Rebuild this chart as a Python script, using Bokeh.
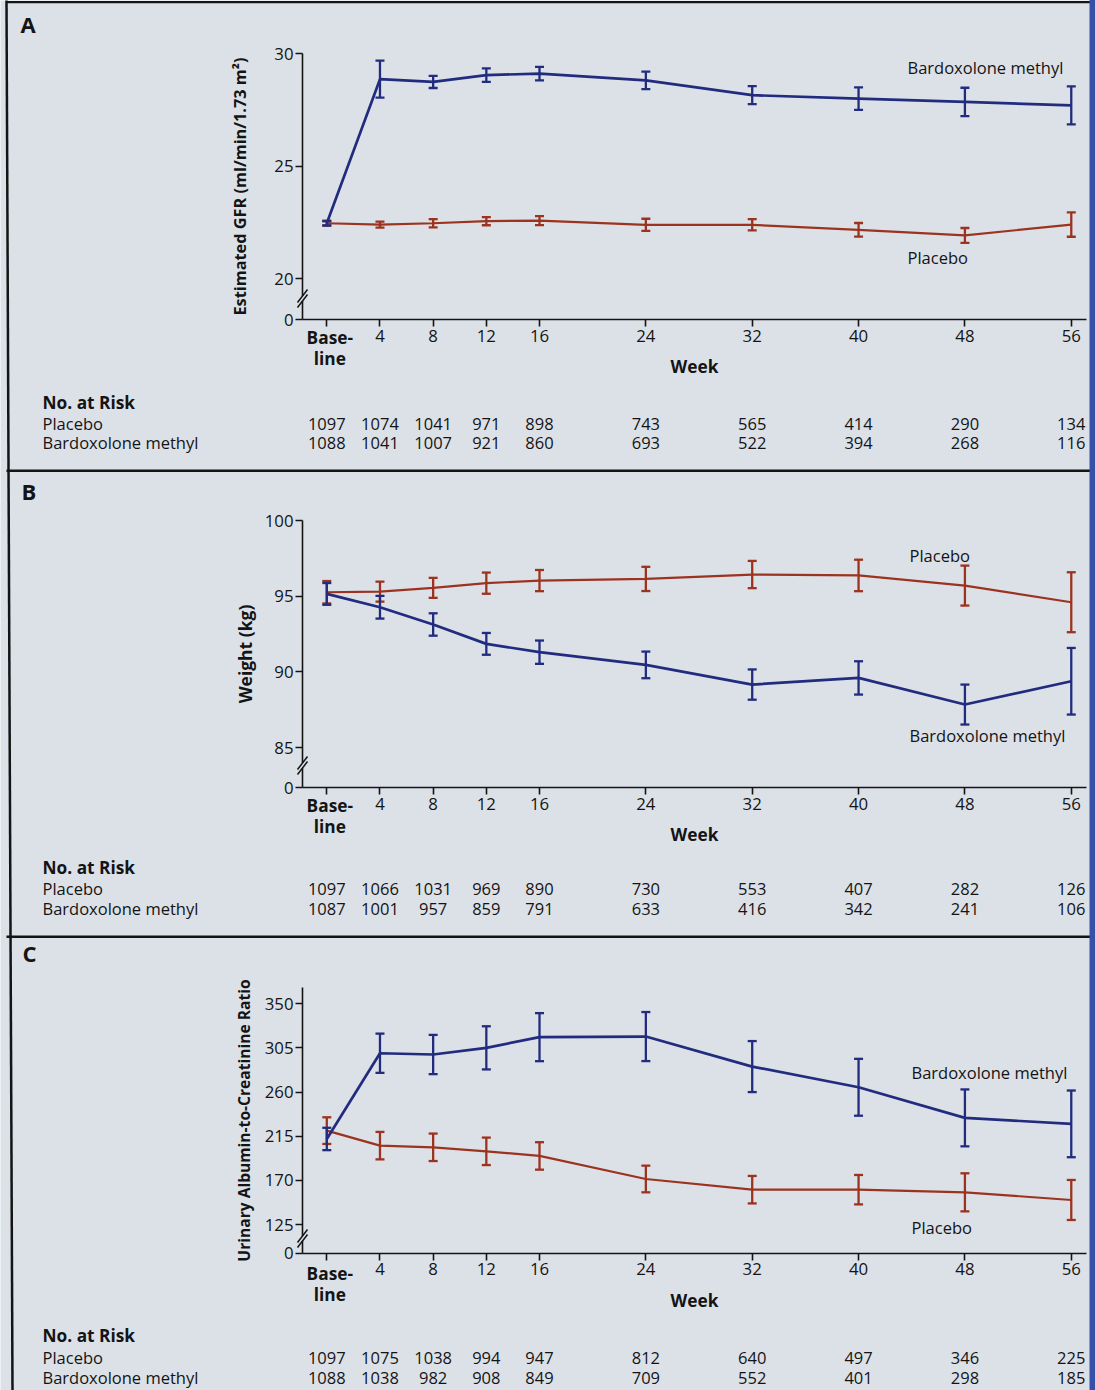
from bokeh.plotting import figure
from bokeh.models import Range1d, FixedTicker, LinearAxis
from bokeh.core.properties import value
from bokeh.embed import file_html
from bokeh.resources import INLINE

# ---- data -----------------------------------------------------------------
weeks = [0, 4, 8, 12, 16, 24, 32, 40, 48, 56]

# A: estimated GFR (ml/min/1.73 m2), mean and error-bar half width
gfr_placebo = [22.47, 22.41, 22.47, 22.56, 22.59, 22.40, 22.40, 22.18, 21.93, 22.41]
gfr_placebo_err = [0.10, 0.13, 0.18, 0.18, 0.20, 0.27, 0.25, 0.30, 0.33, 0.54]
gfr_bard = [22.47, 28.86, 28.74, 29.04, 29.11, 28.81, 28.15, 28.00, 27.85, 27.70]
gfr_bard_err = [0.10, 0.82, 0.27, 0.30, 0.30, 0.39, 0.40, 0.50, 0.63, 0.84]
gfr_risk_placebo = [1097, 1074, 1041, 971, 898, 743, 565, 414, 290, 134]
gfr_risk_bard = [1088, 1041, 1007, 921, 860, 693, 522, 394, 268, 116]

# B: body weight (kg)
wt_placebo = [95.26, 95.30, 95.55, 95.86, 96.03, 96.14, 96.43, 96.37, 95.70, 94.60]
wt_placebo_err = [0.74, 0.66, 0.66, 0.70, 0.70, 0.80, 0.90, 1.04, 1.32, 1.98]
wt_bard = [95.15, 94.27, 93.13, 91.85, 91.30, 90.46, 89.16, 89.60, 87.84, 89.38]
wt_bard_err = [0.72, 0.75, 0.74, 0.72, 0.77, 0.88, 1.00, 1.10, 1.32, 2.20]
wt_risk_placebo = [1097, 1066, 1031, 969, 890, 730, 553, 407, 282, 126]
wt_risk_bard = [1087, 1001, 957, 859, 791, 633, 416, 342, 241, 106]

# C: urinary albumin-to-creatinine ratio
uacr_placebo = [220.7, 205.4, 203.7, 199.6, 194.9, 171.4, 160.5, 160.5, 157.8, 150.0]
uacr_placebo_err = [13.6, 14.0, 14.0, 14.0, 14.0, 13.6, 14.0, 15.0, 19.4, 20.4]
uacr_bard = [212.2, 299.6, 298.3, 305.1, 316.0, 316.6, 286.0, 264.9, 233.7, 227.6]
uacr_bard_err = [11.4, 20.0, 20.0, 22.0, 24.5, 25.0, 26.0, 29.0, 29.0, 34.0]
uacr_risk_placebo = [1097, 1075, 1038, 994, 947, 812, 640, 497, 346, 225]
uacr_risk_bard = [1088, 1038, 982, 908, 849, 709, 552, 401, 298, 185]

gfr_ticks = [20, 25, 30]
wt_ticks = [85, 90, 95, 100]
uacr_ticks = [125, 170, 215, 260, 305, 350]

# ---- page geometry and styling ---------------------------------------------
FONT = "Open Sans"
PAPER = "#dce1e8"
INK = "#141414"
BLUE = "#222c7e"
RED = "#9c331f"
EDGE = "#3550a8"
NORMAL = value("16.5px")
BOLD = value("17.3px")

W, H = 1095, 1390
PX0, PXW = 326.3, 13.294       # screen x of week 0, pixels per week
AXIS_X, AXIS_END = 302, 1086   # screen x where the axes start and end


def xd(px):
    return (px - PX0) / PXW


panels = [
    dict(letter="A", rng="default", cal=(30.0, 53.0, 18.2, 319.0), floor=18.2, top=30.0,
         ticks=gfr_ticks, ylabel="Estimated GFR (ml/min/1.73 m\u00b2)",
         ylabel_size="16.3px", ylabel_standoff=20,
         placebo=gfr_placebo, placebo_err=gfr_placebo_err,
         bard=gfr_bard, bard_err=gfr_bard_err,
         risk_placebo=gfr_risk_placebo, risk_bard=gfr_risk_bard,
         letter_xy=(20, 23), base_y=337, rows=(402, 423, 442),
         bard_label=(907, 67), placebo_label=(907, 257), break_y=298),
    dict(letter="B", rng="B", cal=(100.0, 520.0, 82.36, 787.0), floor=82.36, top=100.0,
         ticks=wt_ticks, ylabel="Weight (kg)",
         ylabel_size="17.5px", ylabel_standoff=5,
         placebo=wt_placebo, placebo_err=wt_placebo_err,
         bard=wt_bard, bard_err=wt_bard_err,
         risk_placebo=wt_risk_placebo, risk_bard=wt_risk_bard,
         letter_xy=(21, 490), base_y=805, rows=(867, 888, 908),
         bard_label=(909, 735), placebo_label=(909, 555), break_y=765),
    dict(letter="C", rng="C", cal=(350.0, 1003.3, 125.0, 1224.0), floor=95.44, top=366.6,
         ticks=uacr_ticks, ylabel="Urinary Albumin-to-Creatinine Ratio",
         ylabel_size="15.6px", ylabel_standoff=7,
         placebo=uacr_placebo, placebo_err=uacr_placebo_err,
         bard=uacr_bard, bard_err=uacr_bard_err,
         risk_placebo=uacr_risk_placebo, risk_bard=uacr_risk_bard,
         letter_xy=(22, 952), base_y=1273, rows=(1335, 1357, 1377),
         bard_label=(911, 1072), placebo_label=(911, 1227), break_y=1238),
]


def make_yd(cal):
    v_a, py_a, v_b, py_b = cal
    k = (v_b - v_a) / (py_b - py_a)
    return lambda py: v_a + (py - py_a) * k


ranges = {}
for pn in panels:
    yd = make_yd(pn["cal"])
    ranges[pn["rng"]] = Range1d(yd(H), yd(0))

p = figure(width=W, height=H, x_range=Range1d(xd(0), xd(W)), y_range=ranges["default"],
           output_backend="svg", toolbar_location=None, title=None,
           x_axis_location=None, y_axis_location=None,
           min_border=0, background_fill_color=PAPER, border_fill_color=PAPER,
           outline_line_color=None)
p.extra_y_ranges = {"B": ranges["B"], "C": ranges["C"]}
p.grid.visible = False


def style_axis(ax):
    ax.axis_line_color = INK
    ax.axis_line_width = 1.6
    ax.major_tick_line_color = INK
    ax.major_tick_line_width = 1.6
    ax.major_tick_out = 7
    ax.major_tick_in = 0
    ax.minor_tick_line_color = None
    ax.major_label_text_font = FONT
    ax.major_label_text_font_size = "16.8px"
    ax.major_label_text_color = INK
    ax.axis_label_text_font = FONT
    ax.axis_label_text_font_style = "bold"
    ax.axis_label_text_color = INK


def texts(xs, ys, labels, rng, align="left", bold=False, size=None):
    p.text(x=xs, y=ys, text=labels, y_range_name=rng,
           text_font=value(FONT), text_font_size=size or (BOLD if bold else NORMAL),
           text_font_style="bold" if bold else "normal",
           text_align=align, text_baseline="middle", text_color=INK)


for pn in panels:
    rng = pn["rng"]
    yd = make_yd(pn["cal"])

    # series: placebo first, bardoxolone on top
    for vals, errs, color, lw in ((pn["placebo"], pn["placebo_err"], RED, 2.2),
                                  (pn["bard"], pn["bard_err"], BLUE, 2.7)):
        lo = [v - e for v, e in zip(vals, errs)]
        hi = [v + e for v, e in zip(vals, errs)]
        p.line(weeks, vals, line_color=color, line_width=lw, y_range_name=rng)
        p.segment(weeks, lo, weeks, hi, line_color=color, line_width=2.3, y_range_name=rng)
        p.scatter(weeks, lo, marker="dash", size=9, line_color=color, line_width=2.3,
                  y_range_name=rng)
        p.scatter(weeks, hi, marker="dash", size=9, line_color=color, line_width=2.3,
                  y_range_name=rng)

    # axes, pinned at the panel's own origin
    xax = LinearAxis(y_range_name=rng, fixed_location=pn["floor"],
                     bounds=(xd(AXIS_X), xd(AXIS_END)),
                     ticker=FixedTicker(ticks=weeks), major_label_overrides={0: ""},
                     axis_label="Week")
    style_axis(xax)
    xax.axis_label_text_font_size = "17.3px"
    xax.axis_label_standoff = 10
    xax.major_label_standoff = 3
    p.add_layout(xax, "below")

    yax = LinearAxis(y_range_name=rng, fixed_location=xd(AXIS_X),
                     bounds=(pn["floor"], pn["top"]),
                     ticker=FixedTicker(ticks=[pn["floor"]] + pn["ticks"]),
                     major_label_overrides={pn["floor"]: "0"},
                     axis_label=pn["ylabel"])
    style_axis(yax)
    yax.axis_label_text_font_size = pn["ylabel_size"]
    yax.axis_label_standoff = pn["ylabel_standoff"]
    yax.major_label_standoff = 2
    p.add_layout(yax, "left")

    # two-line baseline tick label
    bx = xd(PX0 + 3)
    texts([bx, bx], [yd(pn["base_y"]), yd(pn["base_y"] + 21)], ["Base-", "line"], rng,
          align="center", bold=True)

    # series labels
    texts([xd(pn["bard_label"][0]), xd(pn["placebo_label"][0])],
          [yd(pn["bard_label"][1]), yd(pn["placebo_label"][1])],
          ["Bardoxolone methyl", "Placebo"], rng)

    # panel letter
    texts([xd(pn["letter_xy"][0])], [yd(pn["letter_xy"][1])], [pn["letter"]], rng,
          bold=True, size=value("22px"))

    # numbers at risk
    r0, r1, r2 = pn["rows"]
    texts([xd(42)], [yd(r0)], ["No. at Risk"], rng, bold=True)
    texts([xd(42), xd(42)], [yd(r1), yd(r2)], ["Placebo", "Bardoxolone methyl"], rng)
    texts(weeks, [yd(r1)] * len(weeks), [str(n) for n in pn["risk_placebo"]], rng,
          align="center")
    texts(weeks, [yd(r2)] * len(weeks), [str(n) for n in pn["risk_bard"]], rng,
          align="center")

    # axis break on the y axis
    b = pn["break_y"]
    p.quad(left=[xd(AXIS_X - 3)], right=[xd(AXIS_X + 3)], top=[yd(b - 2.5)],
           bottom=[yd(b + 2.5)], fill_color=PAPER, line_color=None,
           y_range_name=rng, level="overlay")
    p.segment(x0=[xd(AXIS_X - 5)] * 2, y0=[yd(b + 9), yd(b + 4)],
              x1=[xd(AXIS_X + 5)] * 2, y1=[yd(b - 4), yd(b - 9)],
              line_color=INK, line_width=1.5, y_range_name=rng, level="overlay")

# panel frame lines (screen-aligned, drawn in panel A's coordinates)
ydA = make_yd(panels[0]["cal"])
p.segment(x0=[xd(6)], y0=[ydA(0)], x1=[xd(12)], y1=[ydA(H)],
          line_color=INK, line_width=2.5, level="overlay")
p.quad(left=[xd(6)] * 3, right=[xd(W)] * 3,
       top=[ydA(0.5), ydA(469), ydA(935)], bottom=[ydA(2.8), ydA(471.5), ydA(937.5)],
       fill_color=INK, line_color=None, level="overlay")
p.quad(left=[xd(1089)], right=[xd(W + 2)], top=[ydA(-2)], bottom=[ydA(H + 2)],
       fill_color=EDGE, line_color=None, level="overlay")

open("out.html", "w").write(file_html(p, INLINE))
